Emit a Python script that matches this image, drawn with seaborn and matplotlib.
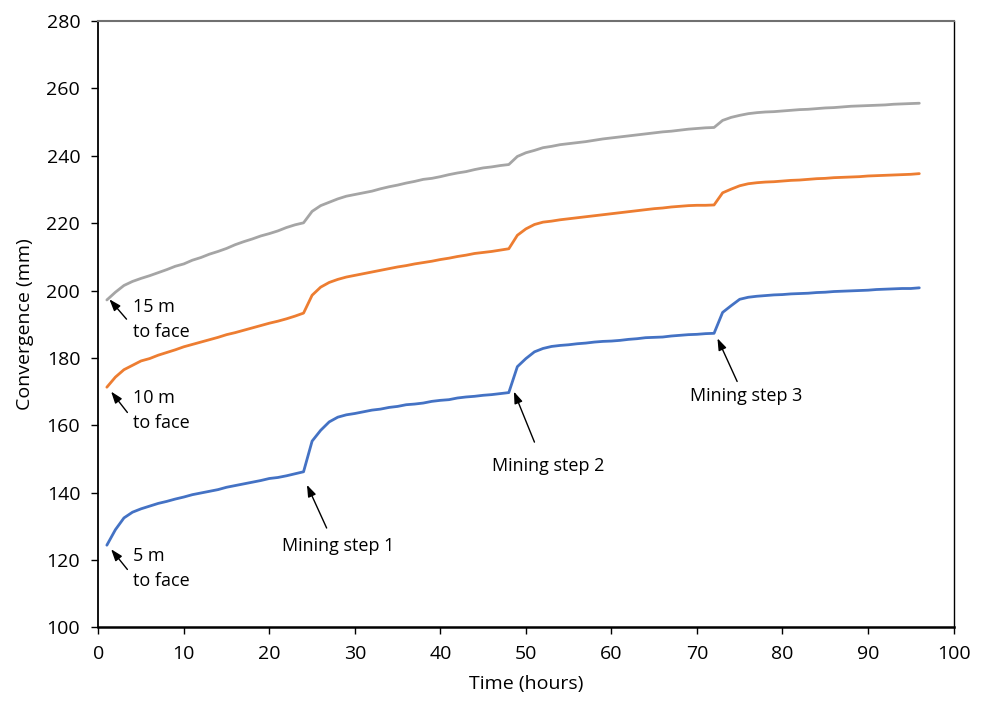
import matplotlib

matplotlib.use("Agg")
import matplotlib.pyplot as plt
import numpy as np
import pandas as pd
import seaborn as sns

# Hourly convergence readings (mm), hours 1..96
hours = list(range(1, 97))

conv_5m = [
    124.4, 129.0, 132.5, 134.2, 135.2, 136.0, 136.8, 137.4, 138.1, 138.7,
    139.4, 139.9, 140.4, 140.9, 141.6, 142.1, 142.6, 143.1, 143.6, 144.2,
    144.5, 145.0, 145.6, 146.2, 155.3, 158.5, 161.0, 162.4, 163.1, 163.5,
    164.0, 164.5, 164.8, 165.3, 165.6, 166.1, 166.3, 166.6, 167.1, 167.4,
    167.6, 168.1, 168.4, 168.6, 168.9, 169.1, 169.4, 169.7, 177.4, 179.8,
    181.8, 182.8, 183.4, 183.7, 183.9, 184.2, 184.4, 184.7, 184.9, 185.0,
    185.2, 185.5, 185.7, 186.0, 186.1, 186.2, 186.5, 186.7, 186.9, 187.0,
    187.2, 187.3, 193.5, 195.5, 197.4, 198.0, 198.3, 198.5, 198.7, 198.8,
    199.0, 199.1, 199.2, 199.4, 199.5, 199.7, 199.8, 199.9, 200.0, 200.1,
    200.3, 200.4, 200.5, 200.6, 200.6, 200.8,
]

conv_10m = [
    171.3, 174.3, 176.5, 177.8, 179.1, 179.8, 180.8, 181.6, 182.4, 183.3,
    184.0, 184.7, 185.4, 186.1, 186.9, 187.5, 188.2, 188.9, 189.6, 190.3,
    190.9, 191.6, 192.4, 193.3, 198.6, 201.0, 202.4, 203.3, 204.0, 204.5,
    205.0, 205.5, 206.0, 206.5, 207.0, 207.4, 207.9, 208.3, 208.7, 209.2,
    209.6, 210.1, 210.5, 211.0, 211.3, 211.6, 212.0, 212.4, 216.4, 218.3,
    219.6, 220.3, 220.6, 221.0, 221.3, 221.6, 221.9, 222.2, 222.5, 222.8,
    223.1, 223.4, 223.7, 224.0, 224.3, 224.5, 224.8, 225.0, 225.2, 225.3,
    225.3, 225.4, 229.0, 230.1, 231.1, 231.7, 232.0, 232.2, 232.3, 232.5,
    232.7, 232.8, 233.0, 233.2, 233.3, 233.5, 233.6, 233.7, 233.8, 234.0,
    234.1, 234.2, 234.3, 234.4, 234.5, 234.7,
]

conv_15m = [
    197.2, 199.5, 201.5, 202.7, 203.6, 204.4, 205.3, 206.2, 207.2, 207.9,
    209.0, 209.8, 210.8, 211.6, 212.5, 213.6, 214.5, 215.3, 216.2, 216.9,
    217.7, 218.7, 219.5, 220.1, 223.5, 225.2, 226.2, 227.2, 228.0, 228.5,
    229.0, 229.5, 230.2, 230.8, 231.3, 231.9, 232.4, 233.0, 233.3, 233.8,
    234.4, 234.9, 235.3, 235.9, 236.4, 236.7, 237.1, 237.4, 239.8, 240.9,
    241.6, 242.4, 242.8, 243.3, 243.6, 243.9, 244.2, 244.6, 245.0, 245.3,
    245.6, 245.9, 246.2, 246.5, 246.8, 247.1, 247.3, 247.6, 247.9, 248.1,
    248.3, 248.4, 250.5, 251.4, 252.0, 252.5, 252.8, 253.0, 253.1, 253.3,
    253.5, 253.7, 253.8, 254.0, 254.2, 254.3, 254.5, 254.7, 254.8, 254.9,
    255.0, 255.1, 255.3, 255.4, 255.5, 255.6,
]

series_names = ["5 m", "10 m", "15 m"]
series_colors = ["#4472C4", "#ED7D31", "#A5A5A5"]

df = pd.DataFrame({
    "hours": hours * 3,
    "convergence": conv_5m + conv_10m + conv_15m,
    "distance": [n for n in series_names for _ in hours],
})

sns.set_theme(style="white")
plt.rcParams["font.family"] = ["Open Sans", "DejaVu Sans"]
plt.rcParams["text.color"] = "black"
plt.rcParams["axes.labelcolor"] = "black"
plt.rcParams["xtick.color"] = "black"
plt.rcParams["ytick.color"] = "black"

fig, ax = plt.subplots(figsize=(9.83, 7.01), dpi=100)
fig.subplots_adjust(left=0.1, right=0.97, top=0.97, bottom=0.105)

sns.lineplot(
    data=df, x="hours", y="convergence", hue="distance",
    palette=dict(zip(series_names, series_colors)),
    linewidth=2.0, legend=False, ax=ax,
)

ax.set_xlim(0, 100)
ax.set_ylim(100, 280)
ax.set_xticks(np.arange(0, 101, 10))
ax.set_yticks(np.arange(100, 281, 20))
ax.tick_params(axis="both", which="major", labelsize=14, length=5, width=1,
               direction="out", left=True, bottom=True, color="black")
ax.tick_params(axis="x", pad=8)
ax.tick_params(axis="y", pad=8)
ax.set_xlabel("Time (hours)", fontsize=14, labelpad=8)
ax.set_ylabel("Convergence (mm)", fontsize=14, labelpad=9)

for side in ["left", "bottom", "right"]:
    ax.spines[side].set_color("black")
ax.spines["left"].set_linewidth(1.3)
ax.spines["bottom"].set_linewidth(1.8)
ax.spines["right"].set_linewidth(1.0)
ax.spines["top"].set_color("#707070")
ax.spines["top"].set_linewidth(1.5)

arrow = dict(arrowstyle="-|>,head_length=0.7,head_width=0.25", color="black",
             lw=1.0, mutation_scale=10, shrinkA=0, shrinkB=0)

# (label, arrow tip, arrow tail, text position, alignment)
notes = [
    ("15 m\nto face", (1.3, 197.4), (3.3, 191.5), (4.0, 191.5), "left"),
    ("10 m\nto face", (1.5, 170.0), (3.4, 163.8), (4.0, 164.5), "left"),
    ("5 m\nto face", (1.5, 123.2), (3.4, 117.2), (4.0, 117.5), "left"),
    ("Mining step 1", (24.4, 142.3), (26.7, 129.5), (28.0, 124.3), "center"),
    ("Mining step 2", (48.6, 170.0), (51.0, 155.0), (52.6, 148.0), "center"),
    ("Mining step 3", (72.4, 185.8), (74.7, 173.0), (75.8, 168.8), "center"),
]
for label, tip, tail, pos, ha in notes:
    ax.annotate("", xy=tip, xytext=tail, arrowprops=arrow)
    ax.text(pos[0], pos[1], label, ha=ha, va="center", fontsize=13,
            linespacing=1.5)

fig.savefig("out.png", dpi=100)
